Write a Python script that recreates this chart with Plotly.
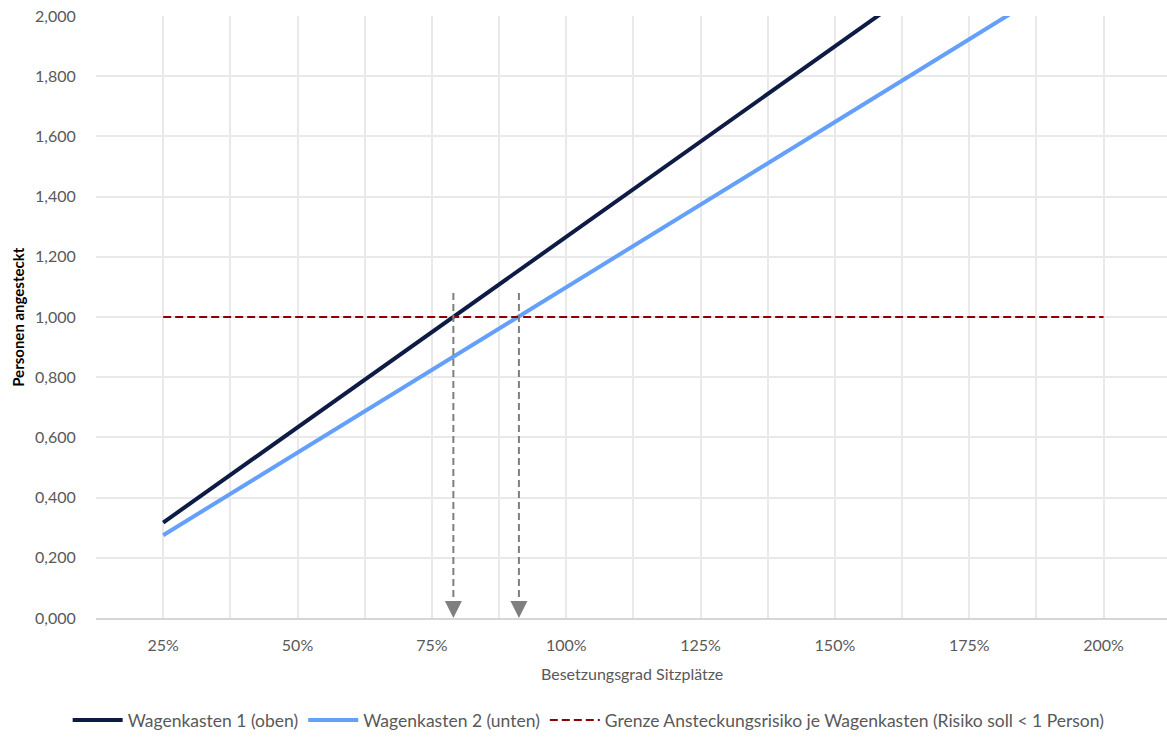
import plotly.graph_objects as go

# Besetzungsgrad der Sitzplätze (%)
besetzung = [25, 50, 75, 100, 125, 150, 175, 200]
# Erwartete Zahl angesteckter Personen je Wagenkasten
wagenkasten_1 = [0.317, 0.633, 0.950, 1.266, 1.583, 1.899, 2.216, 2.532]
wagenkasten_2 = [0.275, 0.549, 0.824, 1.099, 1.374, 1.648, 1.923, 2.198]
# Grenze: Risiko soll < 1 Person sein
grenze_x = [25, 200]
grenze = [1.0, 1.0]
# Besetzungsgrad, bei dem die Grenze erreicht wird
schnittpunkte = [79, 91.2]
pfeil_oben = 1.08

y_ticks = [0.0, 0.2, 0.4, 0.6, 0.8, 1.0, 1.2, 1.4, 1.6, 1.8, 2.0]
y_labels = ["0,000", "0,200", "0,400", "0,600", "0,800", "1,000",
            "1,200", "1,400", "1,600", "1,800", "2,000"]
x_ticks = [25, 50, 75, 100, 125, 150, 175, 200]
x_labels = ["25%", "50%", "75%", "100%", "125%", "150%", "175%", "200%"]

FONT = "Lato, 'Liberation Sans', sans-serif"
GREY = "#595959"
GRID = "#e9e9e9"

fig = go.Figure()

fig.add_trace(go.Scatter(
    x=besetzung, y=wagenkasten_1, mode="lines",
    name="Wagenkasten 1 (oben)",
    line=dict(color="#0d1b45", width=4),
))
fig.add_trace(go.Scatter(
    x=besetzung, y=wagenkasten_2, mode="lines",
    name="Wagenkasten 2 (unten)",
    line=dict(color="#64a0fa", width=4),
))
fig.add_trace(go.Scatter(
    x=grenze_x, y=grenze, mode="lines",
    name="Grenze Ansteckungsrisiko je Wagenkasten (Risiko soll < 1 Person)",
    line=dict(color="#8b0000", width=2, dash="8px,4px"),
))

# Gestrichelte Pfeile von der Grenzlinie hinunter zur x-Achse
for xs in schnittpunkte:
    fig.add_trace(go.Scatter(
        x=[xs, xs], y=[pfeil_oben, 0.045], mode="lines",
        line=dict(color="#7f7f7f", width=2, dash="7px,4px"),
        showlegend=False, hoverinfo="skip",
    ))
    fig.add_annotation(
        x=xs, y=0, xref="x", yref="y", text="",
        showarrow=True, ax=0, ay=-18, axref="pixel", ayref="pixel",
        arrowhead=2, arrowsize=1.7, arrowwidth=2, arrowcolor="#7f7f7f",
    )

# Achsentitel
fig.add_annotation(
    text="<b>Personen angesteckt</b>", textangle=-90,
    xref="paper", yref="paper", x=-0.073, y=0.5,
    xanchor="center", yanchor="middle", showarrow=False,
    font=dict(family=FONT, size=15, color="#000000"),
)
fig.add_annotation(
    text="Besetzungsgrad Sitzplätze",
    xref="paper", yref="paper", x=0.5, y=-0.092,
    xanchor="center", yanchor="middle", showarrow=False,
    font=dict(family=FONT, size=16, color=GREY),
)

fig.update_layout(
    width=1167, height=738,
    margin=dict(l=96, r=0, t=16, b=120),
    paper_bgcolor="white", plot_bgcolor="white",
    font=dict(family=FONT, size=16, color=GREY),
    legend=dict(
        orientation="h", x=0.46, xanchor="center", y=-0.17, yanchor="middle",
        font=dict(family=FONT, size=17.5, color=GREY),
        itemwidth=50, tracegroupgap=0,
    ),
    xaxis=dict(
        range=[12.5, 211.8],
        tickvals=x_ticks, ticktext=x_labels,
        showgrid=True, gridcolor=GRID, gridwidth=1.5,
        minor=dict(dtick=12.5, tick0=12.5, showgrid=True, gridcolor=GRID, gridwidth=1.5),
        ticks="outside", ticklen=12, tickcolor="rgba(0,0,0,0)",
        showline=True, linecolor="#d6d6d6", linewidth=1.5,
        zeroline=False,
        tickfont=dict(family=FONT, size=16, color=GREY),
    ),
    yaxis=dict(
        range=[0, 2.0],
        tickvals=y_ticks, ticktext=y_labels,
        showgrid=True, gridcolor=GRID, gridwidth=1.5,
        ticks="outside", ticklen=16, tickcolor="rgba(0,0,0,0)",
        zeroline=False, showline=False,
        tickfont=dict(family=FONT, size=16, color=GREY),
    ),
)

fig.write_html("out.html")
